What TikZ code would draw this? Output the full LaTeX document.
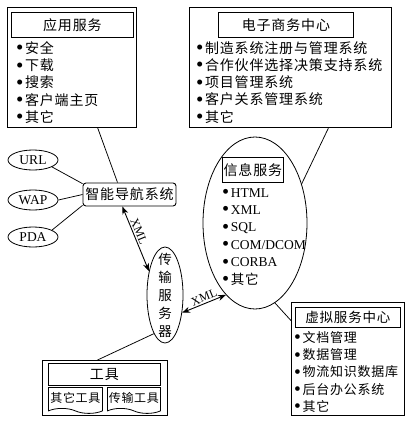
\documentclass[tikz,border=0pt]{standalone}
\usepackage{fontspec}
\setmainfont{Liberation Serif}
\newfontfamily\cjk[LetterSpace=6]{Noto Sans CJK SC}
\usetikzlibrary{shapes.geometric, shapes.symbols, arrows.meta, positioning}
\newcommand{\bul}{\raisebox{-0.25ex}{\scalebox{1.5}{\textbullet}}\hspace{1.5pt}}

\begin{document}
\begin{tikzpicture}[x=1pt, y=-1pt,
        every node/.style={font=\fontsize{13}{17.3}\selectfont},
        outbox/.style={rectangle, draw, line width=1.1pt, anchor=north west, inner sep=0pt},
        headbox/.style={rectangle, draw, line width=0.8pt, anchor=north west, inner sep=0pt, font=\fontsize{14}{16}\selectfont\cjk},
        itemlist/.style={anchor=north west, inner sep=0pt, align=left, font=\fontsize{14}{17.3}\selectfont},
        tagell/.style={ellipse, draw, line width=0.8pt, minimum width=50pt, minimum height=20pt, inner sep=0pt, font=\fontsize{13.5}{16}\selectfont},
        docbox/.style={tape, tape bend top=none, tape bend bottom=out and in, tape bend height=5pt, draw, line width=0.8pt, anchor=north west, inner sep=0pt, font=\fontsize{12}{14}\selectfont\cjk},
        link/.style={line width=0.75pt},
        xmllabel/.style={sloped, above, inner sep=1.5pt, font=\fontsize{12}{14}\selectfont},
        xmlarrow/.style={line width=0.9pt, {Stealth[length=8pt,width=6pt]}-{Stealth[length=8pt,width=6pt]}}
    ]
        \useasboundingbox (0,0) rectangle (416,424);

        % application services
        \node[outbox, minimum width=129pt, minimum height=120pt] (app) at (7,7) {};
        \node[headbox, minimum width=122pt, minimum height=25pt] (apphead) at (11,12) {应用服务};
        \node[itemlist] (applist) at (16,41) {\bul{\cjk 安全}\\ \bul{\cjk 下载}\\ \bul{\cjk 搜索}\\ \bul{\cjk 客户端主页}\\ \bul{\cjk 其它}};

        % e-commerce centre
        \node[outbox, minimum width=202pt, minimum height=120pt] (ecom) at (189,7) {};
        \node[headbox, minimum width=135pt, minimum height=25pt] (ecomhead) at (218,12) {电子商务中心};
        \node[itemlist] (ecomlist) at (196,41) {\bul{\cjk 制造系统注册与管理系统}\\ \bul{\cjk 合作伙伴选择决策支持系统}\\ \bul{\cjk 项目管理系统}\\ \bul{\cjk 客户关系管理系统}\\ \bul{\cjk 其它}};

        % access devices and navigation
        \node[tagell] (url) at (33,160) {URL};
        \node[tagell] (wap) at (33,200) {WAP};
        \node[tagell] (pda) at (33,237) {PDA};
        \node[draw, rounded corners=3pt, line width=0.9pt, minimum width=93pt, minimum height=23pt, inner sep=0pt, font=\fontsize{14}{16}\selectfont\cjk] (nav) at (129.5,194.5) {智能导航系统};

        % information services
        \node[ellipse, draw, line width=0.8pt, minimum width=104pt, minimum height=172pt, inner sep=0pt] (info) at (255,223) {};
        \node[headbox, minimum width=61pt, minimum height=25pt] (infohead) at (222,157) {信息服务};
        \node[itemlist, font=\fontsize{13.5}{17.4}\selectfont] (infolist) at (222,188) {\bul HTML\\ \bul XML\\ \bul SQL\\ \bul COM/DCOM\\ \bul CORBA\\ \bul{\cjk 其它}};

        % transfer server
        \node[ellipse, draw, line width=0.8pt, minimum width=36pt, minimum height=96pt, inner sep=0pt] (trans) at (165,295) {};
        \node[inner sep=0pt, align=center, font=\fontsize{13.5}{18}\selectfont\cjk] (transtxt) at (trans.center) {传\\输\\服\\务\\器};

        % tools
        \node[outbox, minimum width=125pt, minimum height=55pt] (tools) at (42,360) {};
        \node[headbox, minimum width=112pt, minimum height=22pt] (toolhead) at (48,363) {工具};
        \node[docbox, minimum width=54pt, minimum height=26pt] (othertool) at (48,387) {其它工具};
        \node[docbox, minimum width=53pt, minimum height=26pt] (transtool) at (107,387) {传输工具};

        % virtual service centre
        \node[outbox, minimum width=113pt, minimum height=113pt] (virt) at (291,302) {};
        \node[headbox, minimum width=105pt, minimum height=20pt, font=\fontsize{13.5}{16}\selectfont\cjk] (virthead) at (295,307) {虚拟服务中心};
        \node[itemlist, font=\fontsize{13}{17.3}\selectfont] (virtlist) at (294,331) {\bul{\cjk 文档管理}\\ \bul{\cjk 数据管理}\\ \bul{\cjk 物流知识数据库}\\ \bul{\cjk 后台办公系统}\\ \bul{\cjk 其它}};

        % connections
        \draw[link] (app.-67) -- (nav.135);
        \draw[link] (ecom.-58) -- (info.40);
        \draw[link] (url.-20) -- (nav.167);
        \draw[link] (wap.east) -- (nav.west);
        \draw[link] (pda.20) -- (nav.193);
        \draw[xmlarrow] (nav.-121) -- node[xmllabel, pos=0.42] {XML} (trans.124);
        \draw[xmlarrow] (trans.-46) -- node[xmllabel, pos=0.55] {XML} (info.-112);
        \draw[link] (trans.-106) -- (tools.105);
        \draw[link] (info.-76) -- (virt.146);
    \end{tikzpicture}
\end{document}
